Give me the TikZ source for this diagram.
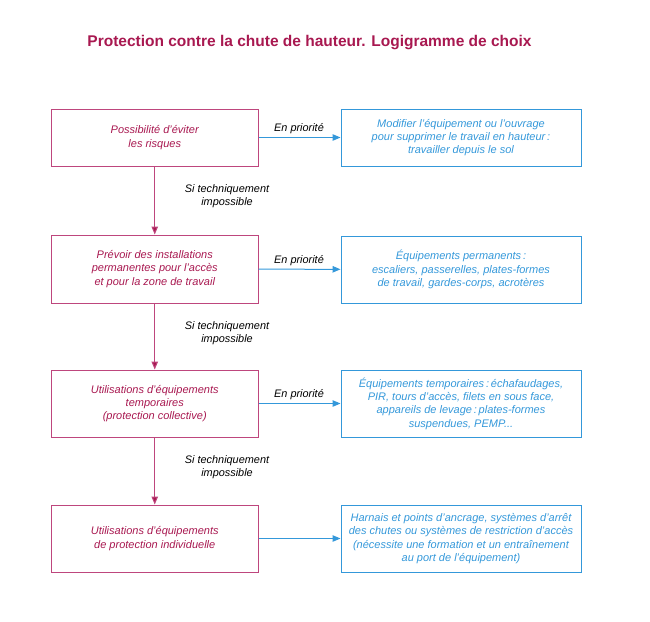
\documentclass[tikz,border=0pt]{standalone}
\usepackage{fontspec}
\setmainfont{Liberation Sans}
\usetikzlibrary{arrows.meta,positioning}
\definecolor{crim}{RGB}{168,24,80}
\definecolor{crimline}{RGB}{190,70,125}
\definecolor{sky}{RGB}{52,152,218}
\tikzset{
  lbox/.style={draw=crimline, line width=1pt, text=crim, align=center, font=\itshape\fontsize{11}{13.4}\selectfont, minimum width=206.5pt, inner sep=0pt},
  rbox/.style={draw=sky, line width=1pt, text=sky, align=center, font=\itshape\fontsize{11}{13.4}\selectfont, minimum width=240pt, inner sep=0pt},
  harrow/.style={draw=sky, line width=1pt, -{Triangle[length=8pt,width=6.5pt]}},
  varrow/.style={draw=crimline, line width=1pt, -{Triangle[length=8pt,width=6.5pt,fill=crim]}},
  lbl/.style={font=\itshape\fontsize{10.9}{13.2}\selectfont, align=center, inner sep=0pt}
}
\begin{document}
\begin{tikzpicture}[x=1pt,y=-1pt]
\useasboundingbox (0,0) rectangle (650,621);
\node[font=\bfseries\fontsize{15.5}{18}\selectfont, text=crim] (title) at (309.5,43) {Protection contre la chute de hauteur. Logigramme de choix};

\node[lbox, minimum height=57pt] (l1) at (154.75,137.5) {Possibilité d'éviter\\les risques};
\node[lbox, minimum height=68pt] (l2) at (154.75,269) {Prévoir des installations\\permanentes pour l'accès\\et pour la zone de travail};
\node[lbox, minimum height=67pt] (l3) at (154.75,403.5) {Utilisations d'équipements\\temporaires\\(protection collective)};
\node[lbox, minimum height=67pt] (l4) at (154.75,538.5) {Utilisations d'équipements\\de protection individuelle};

\node[rbox, minimum height=57pt] (r1) at (461,137.5) {Modifier l'équipement ou l'ouvrage\\pour supprimer le travail en hauteur\,:\\travailler depuis le sol};
\node[rbox, minimum height=67pt] (r2) at (461,269.5) {Équipements permanents\,:\\escaliers, passerelles, plates-formes\\de travail, gardes-corps, acrotères};
\node[rbox, minimum height=67pt] (r3) at (461,403.5) {Équipements temporaires\,:\,échafaudages,\\PIR, tours d'accès, filets en sous face,\\appareils de levage\,:\,plates-formes\\suspendues, PEMP...};
\node[rbox, minimum height=67pt] (r4) at (461,538.5) {Harnais et points d'ancrage, systèmes d'arrêt\\des chutes ou systèmes de restriction d'accès\\(nécessite une formation et un entraînement\\au port de l'équipement)};

\draw[harrow] (l1) -- (r1);
\draw[harrow] (l2) -- (r2);
\draw[harrow] (l3) -- (r3);
\draw[harrow] (l4) -- (r4);

\draw[varrow] (l1) -- (l2);
\draw[varrow] (l2) -- (l3);
\draw[varrow] (l3) -- (l4);

\node[lbl] (p1) at (299,129) {En priorité};
\node[lbl] (p2) at (299,261) {En priorité};
\node[lbl] (p3) at (299,395) {En priorité};

\node[lbl] (s1) at (227,196.5) {Si techniquement\\impossible};
\node[lbl] (s2) at (227,333) {Si techniquement\\impossible};
\node[lbl] (s3) at (227,467.5) {Si techniquement\\impossible};
\end{tikzpicture}
\end{document}
